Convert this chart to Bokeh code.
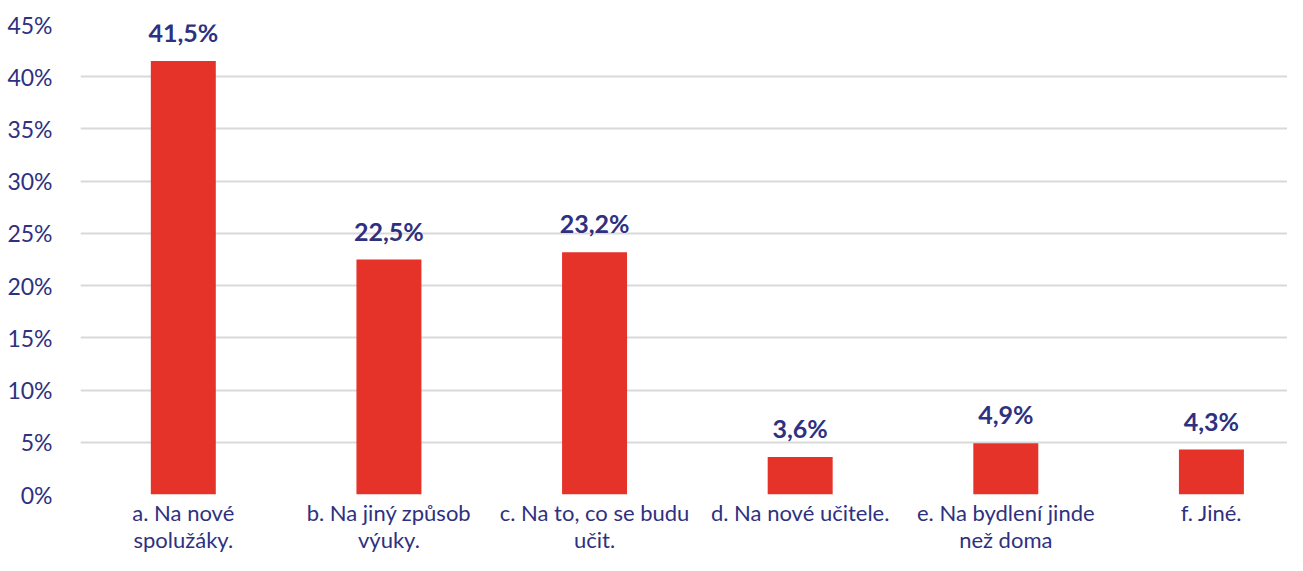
from bokeh.plotting import figure
from bokeh.models import ColumnDataSource, FixedTicker, Range1d
from bokeh.core.properties import value
from bokeh.embed import file_html
from bokeh.resources import INLINE

categories = ["a. Na nové\nspolužáky.", "b. Na jiný způsob\nvýuky.", "c. Na to, co se budu\nučit.",
              "d. Na nové učitele.", "e. Na bydlení jinde\nnež doma", "f. Jiné."]
values = [41.5, 22.5, 23.2, 3.6, 4.9, 4.3]
value_labels = ["41,5%", "22,5%", "23,2%", "3,6%", "4,9%", "4,3%"]
y_ticks = [0, 5, 10, 15, 20, 25, 30, 35, 40, 45]
y_tick_labels = ["0%", "5%", "10%", "15%", "20%", "25%", "30%", "35%", "40%", "45%"]

FONT = "Lato"
NAVY = "#2E3180"
RED = "#E6332A"

xs = list(range(len(categories)))
src = ColumnDataSource(dict(x=xs, top=values, lab=value_labels))

p = figure(width=1287, height=555, output_backend="svg", toolbar_location=None,
           x_range=Range1d(-0.5, 5.37), y_range=Range1d(0, 45),
           min_border_left=80, min_border_right=0, min_border_top=24, min_border_bottom=59)
p.outline_line_color = None
p.background_fill_color = "white"
p.border_fill_color = "white"

p.vbar(x="x", top="top", width=0.316, bottom=0, source=src, color=RED, line_color=None)
p.text(x="x", y="top", text="lab", source=src, text_align="center", text_baseline="alphabetic",
       y_offset=-29, text_font=value(FONT), text_font_size="25px", text_font_style="bold",
       text_color=NAVY)

p.xgrid.visible = False
p.ygrid.ticker = FixedTicker(ticks=y_ticks)
p.ygrid.grid_line_color = "#D9D9D9"
p.ygrid.grid_line_width = 2

p.yaxis.ticker = FixedTicker(ticks=y_ticks)
p.yaxis.major_label_overrides = {t: l for t, l in zip(y_ticks, y_tick_labels)}
p.yaxis.axis_line_color = None
p.yaxis.major_tick_line_color = None
p.yaxis.minor_tick_line_color = None
p.yaxis.major_label_standoff = 22
p.yaxis.major_label_text_font = FONT
p.yaxis.major_label_text_font_size = "23px"
p.yaxis.major_label_text_color = NAVY

p.xaxis.ticker = FixedTicker(ticks=xs)
p.xaxis.major_label_overrides = {x: c for x, c in zip(xs, categories)}
p.xaxis.axis_line_color = None
p.xaxis.major_tick_line_color = None
p.xaxis.minor_tick_line_color = None
p.xaxis.major_tick_out = 0
p.xaxis.major_tick_in = 0
p.xaxis.major_label_standoff = 4
p.xaxis.major_label_text_font = FONT
p.xaxis.major_label_text_font_size = "22px"
p.xaxis.major_label_text_color = NAVY
p.xaxis.major_label_text_line_height = 1.0

open("out.html", "w").write(file_html(p, INLINE))
